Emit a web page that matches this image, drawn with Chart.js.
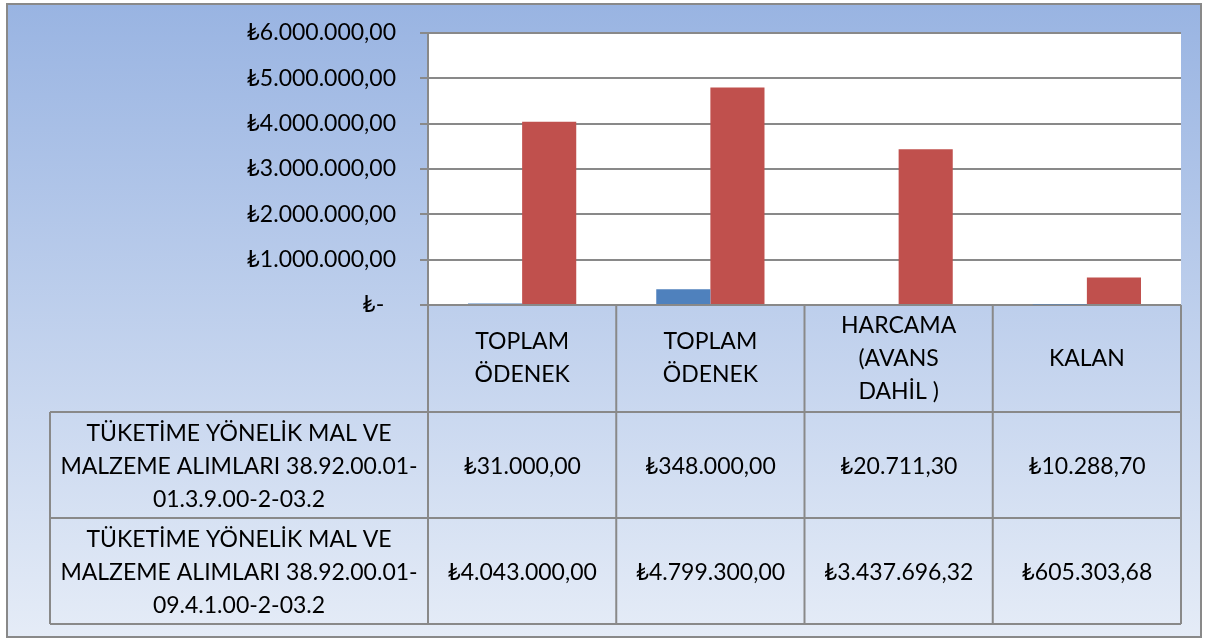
<!DOCTYPE html>
<html>
<head>
<meta charset="utf-8">
<script src="https://cdn.jsdelivr.net/npm/chart.js@4/dist/chart.umd.min.js"></script>
<style>
  html, body { margin: 0; padding: 0; background: #fff; }
</style>
</head>
<body>
<canvas id="myChart" width="1208" height="640"></canvas>
<script>
// categories (one string per line, as in the Excel data table header)
const categories = [
  ['TOPLAM', 'ÖDENEK'],
  ['TOPLAM', 'ÖDENEK'],
  ['HARCAMA', '(AVANS', 'DAHİL )'],
  ['KALAN']
];
const seriesNames = [
  ['TÜKETİME YÖNELİK MAL VE', 'MALZEME ALIMLARI 38.92.00.01-', '01.3.9.00-2-03.2'],
  ['TÜKETİME YÖNELİK MAL VE', 'MALZEME ALIMLARI 38.92.00.01-', '09.4.1.00-2-03.2']
];
const series1 = [31000, 348000, 20711.30, 10288.70];
const series2 = [4043000, 4799300, 3437696.32, 605303.68];
const yTicks = [0, 1000000, 2000000, 3000000, 4000000, 5000000, 6000000];

const COLORS = {
  s1: '#4F81BD',
  s2: '#C0504D',
  line: '#898989',
  bgTop: '#99B4E2',
  bgBottom: '#E5ECF7'
};
const FONT = "Lato, 'Noto Sans', sans-serif";
const FONT_SIZE = 23;
const LINE_H = 33;
const HEADER_H = 107;
const ROW_H = 106;
const TABLE_LEFT = 50;

// ₺1.234.567,89 style
function tl(v) {
  let parts = v.toFixed(2).split('.');
  let int = parts[0].replace(/\B(?=(\d{3})+(?!\d))/g, '.');
  return '₺' + int + ',' + parts[1];
}

const background = {
  id: 'background',
  beforeDraw(chart) {
    const { ctx, chartArea: a, width, height } = chart;
    ctx.save();
    ctx.fillStyle = '#fff';
    ctx.fillRect(0, 0, width, height);
    let g = ctx.createLinearGradient(0, 5, 0, 637);
    g.addColorStop(0, COLORS.bgTop);
    g.addColorStop(1, COLORS.bgBottom);
    ctx.fillStyle = g;
    ctx.fillRect(7, 4, 1194, 633);
    ctx.strokeStyle = COLORS.line;
    ctx.lineWidth = 2;
    ctx.strokeRect(7, 4, 1194, 633);
    ctx.fillStyle = '#fff';
    ctx.fillRect(a.left, a.top, a.right - a.left, a.bottom - a.top);
    ctx.restore();
  }
};

const dataTable = {
  id: 'dataTable',
  afterDraw(chart) {
    const { ctx, chartArea: a, scales: { x } } = chart;
    const colW = (a.right - a.left) / categories.length;
    const r1 = a.bottom + HEADER_H;
    const r2 = r1 + ROW_H;
    const r3 = r2 + ROW_H;
    ctx.save();
    ctx.strokeStyle = COLORS.line;
    ctx.lineWidth = 2;
    ctx.beginPath();
    for (let i = 0; i <= categories.length; i++) {
      let px = a.left + i * colW;
      ctx.moveTo(px, a.bottom);
      ctx.lineTo(px, r3);
    }
    ctx.moveTo(TABLE_LEFT, r1);
    ctx.lineTo(TABLE_LEFT, r3);
    [r1, r2, r3].forEach(y => {
      ctx.moveTo(TABLE_LEFT, y);
      ctx.lineTo(a.right, y);
    });
    ctx.stroke();

    ctx.fillStyle = '#000';
    ctx.font = FONT_SIZE + 'px ' + FONT;
    ctx.textAlign = 'center';
    ctx.textBaseline = 'middle';
    const lines = (arr, cx, cy) => {
      arr.forEach((t, j) => {
        ctx.fillText(t, cx, cy + (j - (arr.length - 1) / 2) * LINE_H);
      });
    };
    categories.forEach((c, i) => {
      lines(c, x.getPixelForValue(i), (a.bottom + r1) / 2);
    });
    const rowLabelX = (TABLE_LEFT + a.left) / 2;
    lines(seriesNames[0], rowLabelX, (r1 + r2) / 2 + 2);
    lines(seriesNames[1], rowLabelX, (r2 + r3) / 2 + 2);
    series1.forEach((v, i) => lines([tl(v)], x.getPixelForValue(i), (r1 + r2) / 2 + 2));
    series2.forEach((v, i) => lines([tl(v)], x.getPixelForValue(i), (r2 + r3) / 2 + 2));
    ctx.restore();
  }
};

Chart.defaults.font.family = FONT;
Chart.defaults.font.size = FONT_SIZE;
Chart.defaults.color = '#000';

let ctx = document.getElementById('myChart');
let myChart = new Chart(ctx, {
  type: 'bar',
  data: {
    labels: categories.map(c => c.join(' ')),
    datasets: [{
      label: seriesNames[0].join(' '),
      data: series1,
      backgroundColor: COLORS.s1
    }, {
      label: seriesNames[1].join(' '),
      data: series2,
      backgroundColor: COLORS.s2
    }]
  },
  options: {
    responsive: false,
    animation: false,
    devicePixelRatio: 1,
    layout: { padding: { top: 33, right: 27, bottom: 335, left: 0 } },
    categoryPercentage: 0.575,
    barPercentage: 1,
    plugins: {
      legend: { display: false },
      tooltip: { enabled: false }
    },
    scales: {
      x: {
        grid: { display: false },
        border: { display: false },
        ticks: { display: false },
        afterFit: s => { s.height = 0; }
      },
      y: {
        min: 0,
        max: 6000000,
        afterBuildTicks: s => { s.ticks = yTicks.map(v => ({ value: v })); },
        afterFit: s => { s.width = 428; s.paddingTop = 0; s.paddingBottom = 0; },
        grid: { color: COLORS.line, lineWidth: 2, tickLength: 8 },
        border: { color: COLORS.line, width: 2 },
        ticks: {
          padding: 24,
          callback: v => v === 0 ? '₺-  ' : tl(v)
        }
      }
    }
  },
  plugins: [background, dataTable]
});
</script>
</body>
</html>
